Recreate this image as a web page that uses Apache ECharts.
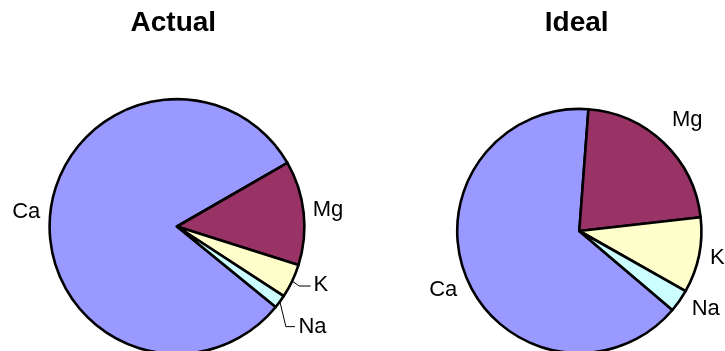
<!DOCTYPE html>
<html>
<head>
<meta charset="utf-8">
<script src="https://cdn.jsdelivr.net/npm/echarts@6/dist/echarts.min.js"></script>
<style>
  html, body { margin: 0; padding: 0; background: #fff; }
  #chart { width: 725px; height: 351px; }
</style>
</head>
<body>
<div id="chart"></div>
<script>
// Cation shares (% of base saturation)
const elements = ['Ca', 'Mg', 'K', 'Na'];
const actualShare = [80.8, 13.2, 4.3, 1.7];
const idealShare = [65, 22, 10, 3];
const chartTitles = ['Actual', 'Ideal'];

const sliceColors = ['#9999FF', '#993366', '#FFFFCC', '#CCFFFF'];
const FONT = '"Liberation Sans", Arial, Helvetica, sans-serif';

// Geometry and label placement for each pie.
// off: label centre relative to the slice's outer mid-point;
// line: bend and end points of a leader line, relative to the same point.
const pies = [
  {
    values: actualShare, center: [177, 226.5], radius: 127.4, startAngle: -39.2, titleX: 173.3,
    labels: [
      { off: [-23.8, -4.4] },
      { off: [24.3, -3] },
      { off: [28.6, 4.3], line: [[7, 5], [18.5, 5]] },
      { off: [32.6, 25.1], line: [[6, 25], [15, 25]] }
    ]
  },
  {
    values: idealShare, center: [579.3, 231], radius: 122.1, startAngle: -40.3, titleX: 576.7,
    labels: [
      { off: [-23.4, 11.6] },
      { off: [23.2, -23.4] },
      { off: [18.3, 2.8] },
      { off: [26.3, 7.8] }
    ]
  }
];

// Outer mid-point of slice i, following the pie's own angular layout
function edgePoint(p, i) {
  const total = p.values.reduce((a, b) => a + b, 0);
  let before = 0;
  for (let k = 0; k < i; k++) before += p.values[k];
  const frac = (before + p.values[i] / 2) / total;
  const theta = (-p.startAngle + frac * 360) * Math.PI / 180;
  return [p.center[0] + p.radius * Math.cos(theta), p.center[1] + p.radius * Math.sin(theta)];
}

const chart = echarts.init(document.getElementById('chart'), null, { renderer: 'canvas' });

chart.setOption({
  backgroundColor: '#fff',
  animation: false,
  title: pies.map((p, si) => ({
    text: chartTitles[si],
    left: p.titleX,
    top: 9.5,
    padding: 0,
    textAlign: 'center',
    textStyle: { fontFamily: FONT, fontSize: 28, fontWeight: 'bold', color: '#000' }
  })),
  series: pies.map((p) => ({
    type: 'pie',
    center: p.center,
    radius: p.radius,
    startAngle: p.startAngle,
    clockwise: true,
    silent: true,
    avoidLabelOverlap: false,
    itemStyle: { borderColor: '#000', borderWidth: 2.6 },
    label: {
      show: true,
      position: 'outside',
      formatter: '{b}',
      color: '#000',
      fontFamily: FONT,
      fontSize: 22
    },
    labelLine: { show: true, smooth: false, lineStyle: { color: '#000', width: 1 } },
    data: elements.map((name, i) => ({
      name,
      value: p.values[i],
      itemStyle: { color: sliceColors[i] },
      labelLine: { show: !!p.labels[i].line }
    })),
    labelLayout: (params) => {
      const i = params.dataIndex;
      const e = edgePoint(p, i);
      const L = p.labels[i];
      const out = {
        x: e[0] + L.off[0],
        y: e[1] + L.off[1],
        align: 'center',
        verticalAlign: 'middle'
      };
      if (L.line) {
        out.labelLinePoints = [
          [e[0], e[1]],
          [e[0] + L.line[0][0], e[1] + L.line[0][1]],
          [e[0] + L.line[1][0], e[1] + L.line[1][1]]
        ];
      }
      return out;
    }
  }))
});
</script>
</body>
</html>
